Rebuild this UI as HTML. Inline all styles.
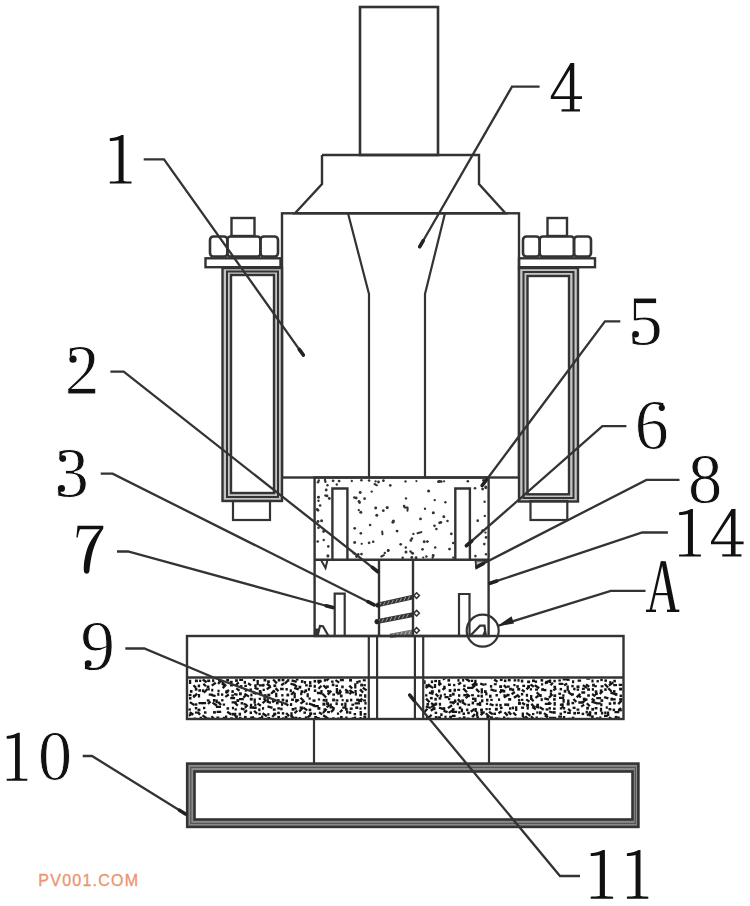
<!DOCTYPE html>
<html><head><meta charset="utf-8"><title>diagram</title>
<style>html,body{margin:0;padding:0;background:#fff;}body{width:750px;height:906px;overflow:hidden;font-family:"Liberation Serif",serif;}svg{display:block}</style>
</head><body>
<svg width="750" height="906" viewBox="0 0 750 906" font-family="Liberation Serif, serif" stroke-linejoin="miter"><rect width="750" height="906" fill="#fff"/><g><rect x="360" y="7" width="78" height="148" rx="0" fill="none" stroke="#333" stroke-width="2.6"/>
<polyline points="322,155 479,155 479,184 505.5,213.3 295,213.3 322,184 322,155" fill="none" stroke="#333" stroke-width="2.4"/>
<rect x="282" y="213.3" width="237" height="264.2" rx="0" fill="none" stroke="#333" stroke-width="2.4"/>
<polyline points="348,213.3 369,294 369,477.5" fill="none" stroke="#333" stroke-width="2.2" stroke-linejoin="round"/>
<polyline points="445,213.3 425,294 425,477.5" fill="none" stroke="#333" stroke-width="2.2" stroke-linejoin="round"/>
<rect x="231.5" y="218" width="23.0" height="18" rx="0" fill="none" stroke="#333" stroke-width="2.4"/>
<rect x="210" y="236.5" width="17.400000000000006" height="20.0" rx="3.5" fill="none" stroke="#333" stroke-width="2.6"/>
<rect x="227.4" y="236.5" width="32.99999999999997" height="20.0" rx="3" fill="none" stroke="#333" stroke-width="2.6"/>
<rect x="260.4" y="236.5" width="17.600000000000023" height="20.0" rx="3.5" fill="none" stroke="#333" stroke-width="2.6"/>
<rect x="205.5" y="258.3" width="75.0" height="8.899999999999977" rx="0" fill="none" stroke="#333" stroke-width="2.4"/>
<path d="M222.5,268 H282 V501 H222.5 Z M231,275 H274 V493 H231 Z" fill="#c4c4c4" fill-rule="evenodd"/>
<rect x="222.5" y="268" width="59.5" height="233" rx="0" fill="none" stroke="#333" stroke-width="2.4"/>
<rect x="227" y="271.5" width="51" height="225.5" rx="0" fill="none" stroke="#333" stroke-width="2.0"/>
<rect x="231" y="275" width="43" height="218" rx="0" fill="none" stroke="#333" stroke-width="2.4"/>
<rect x="233" y="501" width="37" height="19" rx="0" fill="none" stroke="#333" stroke-width="2.2"/>
<rect x="547.5" y="218" width="19.5" height="18" rx="0" fill="none" stroke="#333" stroke-width="2.4"/>
<rect x="523" y="236.5" width="16.700000000000045" height="20.0" rx="3.5" fill="none" stroke="#333" stroke-width="2.6"/>
<rect x="539.7" y="236.5" width="34.299999999999955" height="20.0" rx="3" fill="none" stroke="#333" stroke-width="2.6"/>
<rect x="574" y="236.5" width="17" height="20.0" rx="3.5" fill="none" stroke="#333" stroke-width="2.6"/>
<rect x="519" y="258.3" width="76" height="8.899999999999977" rx="0" fill="none" stroke="#333" stroke-width="2.4"/>
<path d="M519,268 H578 V501.5 H519 Z M527.5,276 H569 V494.3 H527.5 Z" fill="#c4c4c4" fill-rule="evenodd"/>
<rect x="519" y="268" width="59" height="233.5" rx="0" fill="none" stroke="#333" stroke-width="2.4"/>
<rect x="523.5" y="272" width="50.0" height="226" rx="0" fill="none" stroke="#333" stroke-width="2.0"/>
<rect x="527.5" y="276" width="41.5" height="218.3" rx="0" fill="none" stroke="#333" stroke-width="2.4"/>
<rect x="530.5" y="501" width="36.799999999999955" height="19" rx="0" fill="none" stroke="#333" stroke-width="2.2"/>
<g fill="#333"><circle cx="371.7" cy="491.6" r="1.18"/><line x1="407.6" y1="508.2" x2="407.5" y2="510.7" stroke="#333" stroke-width="2" stroke-linecap="round"/><circle cx="390.3" cy="485.4" r="1.32"/><circle cx="354.7" cy="528.3" r="1.38"/><line x1="384.0" y1="555.2" x2="381.3" y2="556.5" stroke="#333" stroke-width="2" stroke-linecap="round"/><circle cx="369.1" cy="542.8" r="1.38"/><circle cx="425.0" cy="508.7" r="1.18"/><circle cx="327.1" cy="495.9" r="1.32"/><circle cx="370.1" cy="525.1" r="1.27"/><circle cx="451.3" cy="533.8" r="1.38"/><circle cx="405.8" cy="547.4" r="1.27"/><circle cx="482.6" cy="489.1" r="1.45"/><circle cx="323.6" cy="531.5" r="1.38"/><circle cx="434.5" cy="525.8" r="1.33"/><circle cx="397.1" cy="531.1" r="1.43"/><circle cx="426.4" cy="556.5" r="1.26"/><line x1="382.2" y1="531.5" x2="382.5" y2="534.3" stroke="#333" stroke-width="2" stroke-linecap="round"/><circle cx="336.8" cy="484.5" r="1.20"/><circle cx="358.8" cy="510.1" r="1.18"/><circle cx="392.9" cy="522.3" r="1.48"/><circle cx="387.2" cy="507.6" r="1.53"/><circle cx="356.2" cy="498.0" r="1.39"/><circle cx="361.4" cy="480.3" r="1.30"/><circle cx="412.7" cy="553.4" r="1.36"/><line x1="421.4" y1="532.1" x2="417.5" y2="533.3" stroke="#333" stroke-width="2" stroke-linecap="round"/><circle cx="383.3" cy="510.7" r="1.40"/><circle cx="327.5" cy="485.2" r="1.21"/><line x1="374.5" y1="484.0" x2="376.9" y2="485.3" stroke="#333" stroke-width="2" stroke-linecap="round"/><circle cx="378.5" cy="482.0" r="1.40"/><circle cx="375.7" cy="508.0" r="1.49"/><circle cx="484.8" cy="515.9" r="1.18"/><circle cx="361.7" cy="543.8" r="1.16"/><circle cx="477.7" cy="520.7" r="1.37"/><circle cx="321.6" cy="520.7" r="1.50"/><circle cx="434.7" cy="500.1" r="1.22"/><circle cx="447.5" cy="521.0" r="1.28"/><circle cx="354.7" cy="542.5" r="1.49"/><circle cx="453.2" cy="543.0" r="1.24"/><line x1="404.5" y1="507.4" x2="407.5" y2="507.6" stroke="#333" stroke-width="2" stroke-linecap="round"/><circle cx="360.8" cy="533.3" r="1.33"/><circle cx="475.4" cy="556.1" r="1.30"/><circle cx="354.3" cy="497.5" r="1.23"/><circle cx="422.5" cy="549.3" r="1.34"/><circle cx="427.4" cy="541.6" r="1.41"/><circle cx="443.8" cy="516.8" r="1.47"/><circle cx="373.2" cy="541.7" r="1.31"/><circle cx="384.8" cy="552.9" r="1.22"/><circle cx="482.7" cy="530.6" r="1.37"/><circle cx="339.1" cy="481.1" r="1.41"/><circle cx="406.0" cy="551.9" r="1.50"/><circle cx="359.6" cy="502.6" r="1.38"/><circle cx="360.8" cy="512.3" r="1.51"/><circle cx="376.8" cy="515.3" r="1.51"/><circle cx="388.1" cy="550.7" r="1.36"/><circle cx="405.5" cy="481.4" r="1.22"/><circle cx="317.7" cy="541.5" r="1.34"/><circle cx="439.6" cy="522.8" r="1.36"/><circle cx="410.9" cy="540.4" r="1.37"/><circle cx="359.0" cy="501.3" r="1.35"/><circle cx="411.9" cy="538.5" r="1.33"/><circle cx="420.5" cy="518.9" r="1.43"/><circle cx="393.4" cy="521.1" r="1.53"/><circle cx="435.2" cy="547.5" r="1.25"/><circle cx="411.6" cy="552.6" r="1.20"/><circle cx="329.3" cy="498.5" r="1.42"/><circle cx="449.5" cy="549.1" r="1.44"/><circle cx="428.6" cy="491.0" r="1.54"/><circle cx="354.1" cy="553.3" r="1.34"/><circle cx="484.3" cy="544.1" r="1.32"/><circle cx="404.1" cy="506.1" r="1.28"/><circle cx="439.0" cy="481.5" r="1.33"/><circle cx="320.1" cy="505.5" r="1.35"/><circle cx="327.9" cy="555.9" r="1.54"/><circle cx="323.7" cy="540.0" r="1.20"/><circle cx="388.4" cy="550.2" r="1.25"/><circle cx="413.4" cy="533.9" r="1.17"/><circle cx="433.3" cy="512.7" r="1.53"/><circle cx="424.2" cy="541.7" r="1.49"/><circle cx="328.3" cy="546.4" r="1.29"/><circle cx="410.5" cy="551.4" r="1.20"/><circle cx="406.0" cy="498.4" r="1.21"/><circle cx="325.5" cy="495.5" r="1.27"/><circle cx="445.4" cy="502.3" r="1.22"/><circle cx="375.6" cy="481.4" r="1.16"/><circle cx="440.9" cy="522.4" r="1.34"/><circle cx="475.0" cy="488.2" r="1.32"/><circle cx="400.7" cy="544.3" r="1.35"/><circle cx="433.2" cy="555.6" r="1.48"/><circle cx="436.4" cy="529.0" r="1.29"/><circle cx="326.2" cy="490.0" r="1.45"/><circle cx="360.2" cy="492.6" r="1.49"/><circle cx="364.6" cy="498.7" r="1.33"/><circle cx="361.5" cy="554.1" r="1.37"/><circle cx="358.3" cy="554.4" r="1.29"/><circle cx="317.2" cy="509.4" r="1.35"/></g>
<g fill="#333"><circle cx="351.8" cy="481.0" r="1.16"/><circle cx="318.8" cy="480.5" r="1.20"/><circle cx="333.1" cy="480.8" r="1.40"/><circle cx="325.0" cy="480.0" r="1.22"/><circle cx="369.1" cy="480.5" r="1.33"/><circle cx="416.4" cy="481.1" r="1.10"/><circle cx="444.1" cy="481.3" r="1.12"/><circle cx="438.3" cy="481.8" r="1.21"/><circle cx="383.4" cy="480.7" r="1.37"/><circle cx="483.4" cy="480.3" r="1.38"/><circle cx="439.7" cy="481.3" r="1.37"/><circle cx="325.4" cy="481.7" r="1.22"/><circle cx="467.8" cy="481.3" r="1.31"/><circle cx="441.3" cy="481.6" r="1.29"/><circle cx="402.7" cy="557.8" r="1.29"/><circle cx="453.2" cy="557.7" r="1.15"/><circle cx="416.1" cy="557.8" r="1.46"/><circle cx="432.7" cy="557.5" r="1.18"/><circle cx="356.6" cy="556.5" r="1.49"/><circle cx="411.8" cy="557.4" r="1.47"/><circle cx="423.2" cy="557.5" r="1.11"/><circle cx="318.0" cy="482.2" r="1.28"/><circle cx="486.1" cy="537.4" r="1.43"/><circle cx="318.0" cy="521.6" r="1.49"/><circle cx="485.8" cy="486.9" r="1.28"/><circle cx="318.5" cy="500.7" r="1.21"/><circle cx="484.6" cy="501.7" r="1.18"/><circle cx="318.5" cy="497.2" r="1.48"/><circle cx="486.0" cy="554.2" r="1.18"/><circle cx="318.0" cy="510.3" r="1.33"/><circle cx="485.5" cy="532.6" r="1.16"/><circle cx="318.5" cy="527.7" r="1.31"/><circle cx="485.8" cy="487.7" r="1.48"/></g>
<rect x="314.6" y="477.5" width="174.0" height="158.5" rx="0" fill="none" stroke="#333" stroke-width="2.4"/>
<polyline points="314.6,559.7 488.6,559.7" fill="none" stroke="#333" stroke-width="2.4"/>
<polyline points="332.4,559.5 332.4,488.5 347.4,488.5 347.4,559.5" fill="none" stroke="#333" stroke-width="2.4"/>
<polyline points="455.3,559.5 455.3,488.5 469.9,488.5 469.9,559.5" fill="none" stroke="#333" stroke-width="2.4"/>
<polyline points="379,559.5 379,636" fill="none" stroke="#333" stroke-width="2.4"/>
<polyline points="413,559.5 413,636" fill="none" stroke="#333" stroke-width="2.4"/>
<polyline points="334.7,636 334.7,593.7 344.7,593.7 344.7,636" fill="none" stroke="#333" stroke-width="2.2"/>
<polyline points="459,636 459,594 469.5,594 469.5,636" fill="none" stroke="#333" stroke-width="2.2"/>
<polyline points="321,560 325.5,568 327.5,560" fill="none" stroke="#333" stroke-width="2"/>
<polygon points="475.5,560.5 487,560.5 476.3,568.3" fill="#bbb" stroke="#333" stroke-width="1.8"/>
<rect x="315" y="628.5" width="4" height="7.5" fill="#333"/>
<polyline points="317.5,636 320,626 323,626.2 328.5,636" fill="none" stroke="#333" stroke-width="2.2"/>
<polyline points="470,636 480,625.7 484.5,625.7 485.8,636" fill="none" stroke="#333" stroke-width="2.2"/>
<polygon points="482,636 485.5,627 486.5,636" fill="#333"/>
<g opacity="1">
<polyline points="377.2,605 413.2,597" fill="none" stroke="#333" stroke-width="4.8"/>
<path d="M379.2,606.2 L381.1,602.5 M383.3,605.3 L385.2,601.6 M387.4,604.4 L389.3,600.7 M391.5,603.5 L393.4,599.8 M395.6,602.5 L397.5,598.9 M399.7,601.6 L401.6,597.9 M403.8,600.7 L405.7,597.0 M407.9,599.8 L409.8,596.1" stroke="#aaa" stroke-width="0.9" fill="none"/>
</g>
<polygon points="416.6,592.8000000000001 419.40000000000003,595.6 416.6,598.4 413.8,595.6" fill="none" stroke="#333" stroke-width="1.5"/>
<g opacity="1">
<polyline points="375.6,621.8 413,614.6" fill="none" stroke="#333" stroke-width="4.8"/>
<path d="M377.6,623.0 L379.5,619.4 M381.7,622.3 L383.6,618.6 M385.8,621.5 L387.8,617.8 M389.9,620.7 L391.9,617.0 M394.1,619.9 L396.0,616.2 M398.2,619.1 L400.1,615.4 M402.3,618.3 L404.3,614.7 M406.4,617.5 L408.4,613.9" stroke="#aaa" stroke-width="0.9" fill="none"/>
</g>
<polygon points="416.6,610.4000000000001 419.40000000000003,613.2 416.6,616.0 413.8,613.2" fill="none" stroke="#333" stroke-width="1.5"/>
<g opacity="0.7">
<polyline points="390,636 413,631.8" fill="none" stroke="#333" stroke-width="4.8"/>
<path d="M392.0,637.3 L393.9,633.7 M396.1,636.5 L398.1,632.9 M400.2,635.8 L402.2,632.1 M404.4,635.0 L406.3,631.4 M408.5,634.3 L410.5,630.6" stroke="#aaa" stroke-width="0.9" fill="none"/>
</g>
<polygon points="416.6,627.6 419.40000000000003,630.4 416.6,633.1999999999999 413.8,630.4" fill="none" stroke="#333" stroke-width="1.5"/>
<circle cx="377.8" cy="605.3" r="2.4" fill="#222"/>
<circle cx="376.8" cy="621.8" r="2.4" fill="#222"/>
<circle cx="482.7" cy="630.7" r="16" fill="none" stroke="#333" stroke-width="2.2"/>
<clipPath id="cl187_677"><rect x="188.1" y="678.6" width="179.3" height="39.3"/></clipPath><g fill="#151515" clip-path="url(#cl187_677)"><line x1="190.1" y1="679.8" x2="190.1" y2="684.1" stroke="#151515" stroke-width="2.3"/><rect x="194.9" y="679.5" width="3.0" height="2.7"/><rect x="199.1" y="679.6" width="2.2" height="2.4"/><line x1="202.7" y1="679.5" x2="206.7" y2="682.3" stroke="#151515" stroke-width="2.3"/><rect x="207.2" y="679.5" width="3.0" height="2.6"/><rect x="212.1" y="679.2" width="2.2" height="2.9"/><rect x="218.0" y="679.1" width="2.6" height="2.3"/><line x1="222.7" y1="680.8" x2="222.7" y2="685.1" stroke="#151515" stroke-width="2.3"/><rect x="226.2" y="679.0" width="2.9" height="2.5"/><rect x="229.8" y="680.8" width="2.9" height="2.6"/><rect x="235.1" y="679.2" width="2.8" height="2.7"/><line x1="239.2" y1="679.8" x2="243.1" y2="679.8" stroke="#151515" stroke-width="2.3"/><rect x="243.7" y="680.9" width="2.3" height="2.9"/><rect x="252.8" y="679.0" width="2.4" height="2.2"/><line x1="257.7" y1="680.0" x2="257.7" y2="685.2" stroke="#151515" stroke-width="2.3"/><rect x="263.5" y="679.0" width="2.8" height="2.5"/><rect x="267.1" y="680.3" width="2.8" height="2.9"/><line x1="273.1" y1="679.5" x2="276.9" y2="683.4" stroke="#151515" stroke-width="2.3"/><rect x="277.7" y="678.6" width="2.7" height="2.9"/><rect x="281.5" y="678.5" width="2.9" height="2.8"/><rect x="287.1" y="679.1" width="2.2" height="2.6"/><line x1="291.6" y1="680.4" x2="296.7" y2="681.9" stroke="#151515" stroke-width="2.3"/><rect x="295.8" y="678.5" width="2.6" height="2.1"/><rect x="300.9" y="680.1" width="2.5" height="2.8"/><rect x="303.8" y="681.0" width="2.3" height="2.8"/><rect x="309.0" y="681.1" width="2.4" height="2.9"/><rect x="313.6" y="679.9" width="2.5" height="2.7"/><line x1="317.3" y1="680.8" x2="321.3" y2="680.8" stroke="#151515" stroke-width="2.3"/><rect x="323.8" y="679.1" width="2.4" height="2.5"/><line x1="326.5" y1="680.6" x2="329.0" y2="678.0" stroke="#151515" stroke-width="2.3"/><rect x="331.1" y="680.5" width="2.5" height="2.3"/><line x1="335.5" y1="680.1" x2="339.2" y2="682.6" stroke="#151515" stroke-width="2.3"/><line x1="339.9" y1="680.0" x2="343.9" y2="680.0" stroke="#151515" stroke-width="2.3"/><rect x="349.1" y="678.7" width="2.9" height="2.9"/><rect x="356.2" y="680.9" width="2.3" height="2.9"/><rect x="358.3" y="680.2" width="2.4" height="2.4"/><rect x="362.8" y="679.2" width="3.0" height="2.2"/><line x1="193.5" y1="685.2" x2="196.1" y2="687.9" stroke="#151515" stroke-width="2.3"/><rect x="197.7" y="684.5" width="2.4" height="2.8"/><line x1="203.4" y1="683.7" x2="205.9" y2="686.3" stroke="#151515" stroke-width="2.3"/><rect x="206.6" y="685.5" width="2.8" height="2.9"/><line x1="211.7" y1="685.6" x2="215.8" y2="682.8" stroke="#151515" stroke-width="2.3"/><line x1="218.0" y1="683.9" x2="221.7" y2="680.0" stroke="#151515" stroke-width="2.3"/><rect x="222.7" y="683.2" width="2.5" height="3.0"/><rect x="230.1" y="684.2" width="2.9" height="2.3"/><line x1="235.9" y1="685.2" x2="238.7" y2="682.4" stroke="#151515" stroke-width="2.3"/><rect x="239.8" y="685.1" width="2.6" height="2.5"/><rect x="244.3" y="684.8" width="2.6" height="2.2"/><line x1="248.1" y1="683.3" x2="251.1" y2="685.4" stroke="#151515" stroke-width="2.3"/><rect x="254.2" y="684.3" width="2.5" height="2.7"/><line x1="258.9" y1="685.3" x2="264.0" y2="685.3" stroke="#151515" stroke-width="2.3"/><rect x="262.3" y="683.8" width="2.3" height="2.5"/><line x1="266.8" y1="683.8" x2="270.2" y2="686.2" stroke="#151515" stroke-width="2.3"/><rect x="273.4" y="684.4" width="2.8" height="2.7"/><line x1="281.2" y1="685.2" x2="284.2" y2="683.2" stroke="#151515" stroke-width="2.3"/><line x1="284.9" y1="683.6" x2="287.6" y2="680.8" stroke="#151515" stroke-width="2.3"/><line x1="290.5" y1="683.6" x2="295.4" y2="685.1" stroke="#151515" stroke-width="2.3"/><line x1="294.1" y1="684.6" x2="297.0" y2="686.7" stroke="#151515" stroke-width="2.3"/><rect x="298.5" y="685.7" width="2.8" height="2.9"/><rect x="305.1" y="684.2" width="2.7" height="2.2"/><rect x="308.9" y="684.4" width="2.8" height="2.7"/><rect x="313.6" y="684.8" width="2.3" height="3.0"/><line x1="317.9" y1="683.2" x2="321.5" y2="680.8" stroke="#151515" stroke-width="2.3"/><line x1="323.4" y1="685.2" x2="326.8" y2="688.7" stroke="#151515" stroke-width="2.3"/><rect x="326.0" y="685.4" width="2.8" height="2.5"/><rect x="331.8" y="683.5" width="2.6" height="2.7"/><rect x="335.4" y="684.7" width="2.6" height="2.2"/><rect x="341.2" y="685.5" width="2.5" height="2.8"/><line x1="349.3" y1="685.6" x2="352.2" y2="688.5" stroke="#151515" stroke-width="2.3"/><line x1="355.3" y1="683.3" x2="355.3" y2="688.5" stroke="#151515" stroke-width="2.3"/><rect x="360.2" y="683.7" width="2.9" height="2.8"/><rect x="363.4" y="684.1" width="2.4" height="2.2"/><rect x="189.9" y="690.0" width="2.6" height="2.8"/><rect x="194.8" y="688.0" width="2.6" height="2.7"/><rect x="198.3" y="689.2" width="2.7" height="2.5"/><rect x="201.9" y="689.3" width="2.3" height="2.8"/><rect x="207.6" y="688.2" width="2.2" height="2.2"/><rect x="211.2" y="688.8" width="2.1" height="2.7"/><rect x="217.5" y="689.7" width="2.1" height="2.6"/><line x1="222.7" y1="688.1" x2="226.1" y2="684.5" stroke="#151515" stroke-width="2.3"/><rect x="225.3" y="690.3" width="3.0" height="2.9"/><rect x="231.4" y="690.1" width="2.4" height="2.8"/><line x1="236.3" y1="688.4" x2="239.6" y2="690.7" stroke="#151515" stroke-width="2.3"/><rect x="244.7" y="689.3" width="2.4" height="2.3"/><rect x="249.5" y="688.4" width="2.4" height="2.8"/><line x1="254.4" y1="687.8" x2="258.6" y2="689.1" stroke="#151515" stroke-width="2.3"/><rect x="258.8" y="690.0" width="2.6" height="2.9"/><rect x="262.6" y="688.7" width="2.2" height="2.4"/><line x1="266.8" y1="689.3" x2="271.0" y2="686.4" stroke="#151515" stroke-width="2.3"/><rect x="272.5" y="690.3" width="2.7" height="2.4"/><line x1="275.5" y1="688.1" x2="278.5" y2="691.2" stroke="#151515" stroke-width="2.3"/><line x1="280.1" y1="689.0" x2="283.7" y2="689.0" stroke="#151515" stroke-width="2.3"/><rect x="285.5" y="688.0" width="2.3" height="2.6"/><rect x="289.7" y="689.3" width="2.2" height="2.9"/><line x1="294.2" y1="687.9" x2="298.8" y2="689.4" stroke="#151515" stroke-width="2.3"/><rect x="300.5" y="690.2" width="2.8" height="2.9"/><rect x="304.5" y="689.3" width="2.5" height="2.2"/><rect x="307.8" y="687.8" width="2.2" height="2.9"/><rect x="313.8" y="689.4" width="2.5" height="2.6"/><line x1="318.5" y1="688.8" x2="321.4" y2="685.8" stroke="#151515" stroke-width="2.3"/><line x1="321.5" y1="690.0" x2="321.5" y2="694.6" stroke="#151515" stroke-width="2.3"/><rect x="327.1" y="690.1" width="2.7" height="2.3"/><line x1="336.9" y1="688.0" x2="336.9" y2="693.4" stroke="#151515" stroke-width="2.3"/><line x1="339.9" y1="689.4" x2="339.9" y2="694.4" stroke="#151515" stroke-width="2.3"/><line x1="345.1" y1="689.4" x2="348.1" y2="691.4" stroke="#151515" stroke-width="2.3"/><line x1="349.4" y1="690.1" x2="353.9" y2="693.1" stroke="#151515" stroke-width="2.3"/><rect x="354.4" y="690.0" width="2.3" height="2.9"/><line x1="360.0" y1="689.4" x2="363.1" y2="692.6" stroke="#151515" stroke-width="2.3"/><line x1="362.8" y1="687.8" x2="366.6" y2="690.4" stroke="#151515" stroke-width="2.3"/><rect x="188.6" y="693.9" width="2.9" height="2.2"/><rect x="192.9" y="694.7" width="2.2" height="2.1"/><line x1="199.0" y1="693.9" x2="199.0" y2="697.5" stroke="#151515" stroke-width="2.3"/><line x1="203.8" y1="692.8" x2="207.5" y2="689.0" stroke="#151515" stroke-width="2.3"/><line x1="208.7" y1="694.7" x2="212.6" y2="694.7" stroke="#151515" stroke-width="2.3"/><line x1="211.1" y1="694.8" x2="215.6" y2="696.2" stroke="#151515" stroke-width="2.3"/><rect x="217.2" y="693.0" width="2.2" height="2.8"/><rect x="221.0" y="693.4" width="2.3" height="2.4"/><line x1="225.8" y1="693.1" x2="228.9" y2="689.9" stroke="#151515" stroke-width="2.3"/><rect x="231.3" y="694.4" width="2.6" height="2.2"/><line x1="234.1" y1="693.8" x2="237.6" y2="694.9" stroke="#151515" stroke-width="2.3"/><rect x="239.0" y="692.3" width="2.8" height="3.0"/><line x1="244.5" y1="693.6" x2="249.0" y2="696.6" stroke="#151515" stroke-width="2.3"/><rect x="250.3" y="693.6" width="2.2" height="2.8"/><line x1="253.0" y1="692.7" x2="256.5" y2="693.8" stroke="#151515" stroke-width="2.3"/><line x1="258.8" y1="694.3" x2="261.9" y2="692.3" stroke="#151515" stroke-width="2.3"/><rect x="263.9" y="694.2" width="2.7" height="2.4"/><rect x="267.3" y="693.7" width="3.0" height="2.7"/><line x1="271.1" y1="693.8" x2="274.5" y2="690.4" stroke="#151515" stroke-width="2.3"/><line x1="276.2" y1="692.7" x2="276.3" y2="697.3" stroke="#151515" stroke-width="2.3"/><rect x="281.2" y="694.1" width="2.3" height="2.4"/><rect x="286.4" y="693.6" width="2.8" height="2.8"/><line x1="291.1" y1="694.8" x2="294.2" y2="691.6" stroke="#151515" stroke-width="2.3"/><line x1="294.7" y1="692.8" x2="294.7" y2="698.3" stroke="#151515" stroke-width="2.3"/><rect x="300.1" y="692.8" width="2.2" height="2.4"/><line x1="303.7" y1="692.6" x2="306.9" y2="690.4" stroke="#151515" stroke-width="2.3"/><line x1="307.7" y1="693.3" x2="307.7" y2="697.3" stroke="#151515" stroke-width="2.3"/><line x1="316.9" y1="693.0" x2="321.8" y2="693.0" stroke="#151515" stroke-width="2.3"/><line x1="322.5" y1="693.8" x2="326.1" y2="697.5" stroke="#151515" stroke-width="2.3"/><line x1="327.7" y1="694.6" x2="331.3" y2="690.8" stroke="#151515" stroke-width="2.3"/><rect x="332.3" y="693.5" width="2.7" height="2.2"/><line x1="337.2" y1="694.2" x2="341.5" y2="691.2" stroke="#151515" stroke-width="2.3"/><rect x="339.9" y="694.5" width="2.7" height="2.9"/><line x1="345.3" y1="692.3" x2="348.8" y2="692.3" stroke="#151515" stroke-width="2.3"/><line x1="349.4" y1="694.3" x2="352.3" y2="691.3" stroke="#151515" stroke-width="2.3"/><rect x="354.8" y="692.8" width="2.1" height="2.8"/><rect x="359.1" y="694.2" width="3.0" height="2.3"/><line x1="365.2" y1="694.2" x2="365.2" y2="697.8" stroke="#151515" stroke-width="2.3"/><rect x="189.0" y="696.9" width="2.5" height="2.7"/><line x1="193.3" y1="697.5" x2="197.1" y2="693.6" stroke="#151515" stroke-width="2.3"/><rect x="206.8" y="699.3" width="2.8" height="2.3"/><rect x="212.9" y="699.0" width="2.7" height="2.8"/><line x1="216.7" y1="699.5" x2="216.7" y2="703.2" stroke="#151515" stroke-width="2.3"/><rect x="221.1" y="699.1" width="2.4" height="2.3"/><line x1="225.3" y1="696.9" x2="228.8" y2="694.5" stroke="#151515" stroke-width="2.3"/><line x1="230.2" y1="698.2" x2="235.1" y2="698.2" stroke="#151515" stroke-width="2.3"/><rect x="236.4" y="699.1" width="2.8" height="2.9"/><line x1="239.0" y1="699.1" x2="243.8" y2="699.1" stroke="#151515" stroke-width="2.3"/><line x1="243.4" y1="697.7" x2="246.0" y2="694.9" stroke="#151515" stroke-width="2.3"/><rect x="249.8" y="697.8" width="2.9" height="2.8"/><line x1="254.7" y1="698.5" x2="254.7" y2="703.8" stroke="#151515" stroke-width="2.3"/><rect x="258.7" y="697.7" width="2.3" height="2.2"/><rect x="263.3" y="697.2" width="2.5" height="2.8"/><line x1="267.6" y1="698.2" x2="267.7" y2="702.6" stroke="#151515" stroke-width="2.3"/><rect x="272.2" y="699.1" width="2.9" height="2.5"/><rect x="277.1" y="699.1" width="2.5" height="3.0"/><rect x="281.7" y="698.6" width="2.6" height="2.7"/><rect x="285.5" y="699.5" width="2.5" height="2.9"/><rect x="291.1" y="698.5" width="2.9" height="2.4"/><rect x="295.2" y="698.9" width="2.5" height="2.5"/><line x1="300.5" y1="697.7" x2="303.5" y2="700.7" stroke="#151515" stroke-width="2.3"/><rect x="308.5" y="697.4" width="2.2" height="2.3"/><rect x="312.5" y="699.4" width="3.0" height="2.5"/><rect x="317.9" y="698.4" width="2.2" height="2.1"/><rect x="322.6" y="698.9" width="2.6" height="2.6"/><line x1="326.4" y1="698.7" x2="326.4" y2="702.3" stroke="#151515" stroke-width="2.3"/><rect x="332.2" y="698.5" width="2.7" height="2.9"/><rect x="335.5" y="699.3" width="2.9" height="2.2"/><rect x="341.6" y="699.1" width="2.1" height="2.1"/><rect x="345.9" y="699.3" width="2.6" height="2.8"/><rect x="350.1" y="698.7" width="2.2" height="2.7"/><rect x="356.2" y="698.6" width="2.8" height="2.6"/><line x1="359.4" y1="699.2" x2="361.9" y2="701.7" stroke="#151515" stroke-width="2.3"/><rect x="363.1" y="699.4" width="2.9" height="2.2"/><line x1="189.9" y1="702.1" x2="194.3" y2="705.1" stroke="#151515" stroke-width="2.3"/><rect x="194.5" y="703.3" width="2.8" height="2.4"/><line x1="198.5" y1="703.2" x2="203.4" y2="703.2" stroke="#151515" stroke-width="2.3"/><line x1="201.8" y1="703.2" x2="206.1" y2="703.2" stroke="#151515" stroke-width="2.3"/><line x1="208.0" y1="704.0" x2="210.5" y2="701.4" stroke="#151515" stroke-width="2.3"/><line x1="212.5" y1="702.6" x2="217.0" y2="705.7" stroke="#151515" stroke-width="2.3"/><line x1="218.1" y1="701.9" x2="221.1" y2="705.0" stroke="#151515" stroke-width="2.3"/><rect x="222.7" y="703.5" width="2.4" height="2.2"/><line x1="231.6" y1="702.4" x2="236.7" y2="702.4" stroke="#151515" stroke-width="2.3"/><line x1="234.8" y1="702.6" x2="237.8" y2="705.7" stroke="#151515" stroke-width="2.3"/><rect x="240.6" y="702.1" width="2.7" height="2.4"/><line x1="243.6" y1="703.9" x2="247.0" y2="705.0" stroke="#151515" stroke-width="2.3"/><rect x="249.9" y="703.8" width="2.3" height="2.9"/><rect x="254.2" y="703.9" width="2.2" height="2.6"/><line x1="257.5" y1="703.5" x2="260.9" y2="705.8" stroke="#151515" stroke-width="2.3"/><line x1="262.6" y1="703.3" x2="266.1" y2="699.8" stroke="#151515" stroke-width="2.3"/><line x1="267.4" y1="701.7" x2="270.9" y2="702.8" stroke="#151515" stroke-width="2.3"/><line x1="272.2" y1="702.2" x2="275.8" y2="699.7" stroke="#151515" stroke-width="2.3"/><rect x="275.9" y="702.0" width="2.7" height="2.4"/><rect x="281.0" y="702.8" width="2.1" height="3.0"/><line x1="284.9" y1="703.1" x2="288.3" y2="705.5" stroke="#151515" stroke-width="2.3"/><rect x="289.9" y="703.1" width="2.3" height="2.9"/><line x1="295.3" y1="702.1" x2="298.9" y2="699.6" stroke="#151515" stroke-width="2.3"/><line x1="300.4" y1="703.6" x2="304.7" y2="700.7" stroke="#151515" stroke-width="2.3"/><rect x="305.6" y="702.5" width="2.1" height="2.4"/><line x1="308.9" y1="703.7" x2="313.4" y2="705.1" stroke="#151515" stroke-width="2.3"/><rect x="312.5" y="704.0" width="2.6" height="2.7"/><rect x="322.4" y="702.7" width="3.0" height="3.0"/><rect x="326.1" y="702.2" width="2.9" height="2.9"/><line x1="330.7" y1="703.5" x2="330.7" y2="708.6" stroke="#151515" stroke-width="2.3"/><rect x="335.5" y="702.3" width="2.3" height="2.8"/><rect x="340.9" y="703.2" width="2.4" height="2.5"/><line x1="345.4" y1="702.6" x2="345.4" y2="707.9" stroke="#151515" stroke-width="2.3"/><rect x="351.4" y="703.6" width="2.8" height="2.2"/><line x1="354.6" y1="703.4" x2="359.9" y2="703.4" stroke="#151515" stroke-width="2.3"/><line x1="358.3" y1="701.7" x2="362.5" y2="698.8" stroke="#151515" stroke-width="2.3"/><rect x="364.4" y="701.9" width="2.2" height="2.7"/><rect x="188.4" y="708.4" width="2.5" height="2.2"/><rect x="194.8" y="707.0" width="2.5" height="2.4"/><rect x="197.5" y="708.6" width="2.9" height="2.7"/><rect x="203.0" y="706.8" width="2.3" height="2.4"/><line x1="215.9" y1="706.9" x2="221.0" y2="706.9" stroke="#151515" stroke-width="2.3"/><rect x="226.5" y="707.2" width="2.6" height="2.5"/><rect x="231.9" y="706.8" width="2.1" height="2.5"/><rect x="234.5" y="708.3" width="2.3" height="2.3"/><line x1="240.8" y1="708.4" x2="244.6" y2="709.6" stroke="#151515" stroke-width="2.3"/><line x1="244.8" y1="707.9" x2="247.7" y2="705.0" stroke="#151515" stroke-width="2.3"/><line x1="249.6" y1="707.5" x2="254.1" y2="707.5" stroke="#151515" stroke-width="2.3"/><line x1="253.1" y1="707.8" x2="256.7" y2="707.8" stroke="#151515" stroke-width="2.3"/><rect x="258.2" y="708.4" width="2.3" height="2.8"/><rect x="262.0" y="707.1" width="2.1" height="2.6"/><line x1="267.5" y1="706.4" x2="272.5" y2="707.9" stroke="#151515" stroke-width="2.3"/><rect x="272.8" y="708.4" width="2.9" height="2.4"/><rect x="277.3" y="707.3" width="2.8" height="2.2"/><rect x="280.2" y="707.7" width="2.4" height="2.6"/><rect x="291.6" y="708.0" width="2.9" height="2.7"/><rect x="294.4" y="707.3" width="2.2" height="2.3"/><line x1="299.6" y1="707.6" x2="303.4" y2="707.6" stroke="#151515" stroke-width="2.3"/><line x1="303.4" y1="707.6" x2="307.3" y2="710.4" stroke="#151515" stroke-width="2.3"/><rect x="308.6" y="708.6" width="2.7" height="2.7"/><line x1="313.8" y1="706.2" x2="318.8" y2="706.2" stroke="#151515" stroke-width="2.3"/><rect x="317.4" y="707.0" width="3.0" height="2.8"/><rect x="323.5" y="708.3" width="2.6" height="3.0"/><line x1="326.6" y1="707.2" x2="329.7" y2="705.1" stroke="#151515" stroke-width="2.3"/><line x1="331.4" y1="706.6" x2="334.6" y2="708.8" stroke="#151515" stroke-width="2.3"/><line x1="342.2" y1="707.7" x2="345.8" y2="707.7" stroke="#151515" stroke-width="2.3"/><rect x="345.1" y="707.9" width="2.6" height="2.9"/><rect x="349.7" y="707.5" width="3.0" height="2.4"/><rect x="355.3" y="706.4" width="3.0" height="2.6"/><rect x="359.4" y="707.5" width="2.2" height="2.2"/><rect x="363.9" y="706.8" width="2.2" height="2.6"/><line x1="189.6" y1="712.2" x2="193.4" y2="714.8" stroke="#151515" stroke-width="2.3"/><rect x="194.9" y="711.5" width="2.8" height="2.1"/><line x1="197.7" y1="712.1" x2="200.1" y2="714.6" stroke="#151515" stroke-width="2.3"/><rect x="204.0" y="711.3" width="2.5" height="2.4"/><rect x="213.0" y="711.1" width="2.9" height="2.5"/><line x1="216.6" y1="711.8" x2="221.2" y2="711.8" stroke="#151515" stroke-width="2.3"/><line x1="227.2" y1="711.8" x2="231.2" y2="714.5" stroke="#151515" stroke-width="2.3"/><rect x="231.6" y="712.8" width="2.8" height="2.8"/><line x1="235.2" y1="712.7" x2="235.2" y2="716.5" stroke="#151515" stroke-width="2.3"/><rect x="238.6" y="712.7" width="2.5" height="3.0"/><line x1="244.3" y1="712.7" x2="246.9" y2="710.1" stroke="#151515" stroke-width="2.3"/><rect x="249.6" y="711.4" width="2.4" height="2.6"/><line x1="254.1" y1="710.7" x2="257.1" y2="713.8" stroke="#151515" stroke-width="2.3"/><rect x="258.4" y="712.8" width="2.4" height="2.3"/><line x1="262.5" y1="713.2" x2="266.9" y2="716.3" stroke="#151515" stroke-width="2.3"/><rect x="267.3" y="713.1" width="2.1" height="2.6"/><rect x="273.2" y="712.7" width="3.0" height="2.6"/><rect x="277.2" y="711.7" width="2.6" height="2.4"/><rect x="281.8" y="712.1" width="2.4" height="2.5"/><line x1="286.1" y1="713.0" x2="289.1" y2="716.1" stroke="#151515" stroke-width="2.3"/><line x1="291.5" y1="712.2" x2="291.5" y2="717.4" stroke="#151515" stroke-width="2.3"/><line x1="294.6" y1="713.2" x2="297.3" y2="710.5" stroke="#151515" stroke-width="2.3"/><line x1="299.2" y1="711.6" x2="302.8" y2="707.8" stroke="#151515" stroke-width="2.3"/><rect x="303.4" y="711.5" width="2.6" height="2.3"/><rect x="309.2" y="712.3" width="3.0" height="2.7"/><rect x="313.3" y="712.7" width="2.7" height="2.1"/><line x1="319.0" y1="712.2" x2="322.2" y2="714.4" stroke="#151515" stroke-width="2.3"/><line x1="322.9" y1="713.0" x2="326.7" y2="709.0" stroke="#151515" stroke-width="2.3"/><rect x="327.1" y="711.0" width="2.8" height="2.2"/><line x1="331.0" y1="712.1" x2="334.1" y2="708.9" stroke="#151515" stroke-width="2.3"/><rect x="336.9" y="712.5" width="2.2" height="2.3"/><line x1="339.9" y1="712.3" x2="342.4" y2="709.7" stroke="#151515" stroke-width="2.3"/><rect x="346.0" y="710.8" width="2.5" height="2.8"/><rect x="349.1" y="711.3" width="2.2" height="2.6"/><rect x="353.6" y="713.0" width="2.5" height="2.3"/><line x1="360.7" y1="710.9" x2="360.8" y2="715.8" stroke="#151515" stroke-width="2.3"/><rect x="363.6" y="713.0" width="2.8" height="2.3"/><line x1="188.9" y1="715.8" x2="192.5" y2="713.4" stroke="#151515" stroke-width="2.3"/><rect x="193.5" y="717.6" width="2.7" height="3.0"/><rect x="199.6" y="716.7" width="2.5" height="2.4"/><line x1="202.5" y1="715.4" x2="206.6" y2="718.1" stroke="#151515" stroke-width="2.3"/><rect x="207.1" y="717.5" width="2.5" height="2.9"/><line x1="211.4" y1="716.2" x2="214.7" y2="719.6" stroke="#151515" stroke-width="2.3"/><rect x="216.4" y="716.5" width="2.9" height="2.7"/><rect x="222.8" y="716.8" width="3.0" height="2.6"/><line x1="226.1" y1="715.6" x2="226.1" y2="720.2" stroke="#151515" stroke-width="2.3"/><rect x="230.1" y="717.3" width="2.7" height="2.6"/><rect x="235.0" y="715.5" width="2.9" height="2.4"/><rect x="238.9" y="716.8" width="2.6" height="2.4"/><rect x="244.0" y="715.9" width="2.7" height="2.4"/><line x1="250.2" y1="717.3" x2="255.2" y2="718.9" stroke="#151515" stroke-width="2.3"/><line x1="252.9" y1="716.3" x2="252.9" y2="720.5" stroke="#151515" stroke-width="2.3"/><rect x="258.7" y="717.1" width="2.9" height="2.4"/><line x1="262.1" y1="715.6" x2="262.1" y2="719.5" stroke="#151515" stroke-width="2.3"/><rect x="267.3" y="716.9" width="2.8" height="2.2"/><line x1="272.2" y1="716.9" x2="275.8" y2="713.2" stroke="#151515" stroke-width="2.3"/><rect x="277.3" y="716.0" width="2.7" height="2.4"/><rect x="282.2" y="717.3" width="2.1" height="2.9"/><rect x="284.7" y="715.9" width="2.8" height="2.3"/><line x1="291.1" y1="715.5" x2="295.0" y2="719.5" stroke="#151515" stroke-width="2.3"/><rect x="294.4" y="716.7" width="3.0" height="2.5"/><line x1="299.7" y1="717.1" x2="299.7" y2="721.5" stroke="#151515" stroke-width="2.3"/><rect x="304.8" y="716.4" width="2.9" height="2.2"/><line x1="307.7" y1="717.1" x2="310.9" y2="715.0" stroke="#151515" stroke-width="2.3"/><rect x="314.2" y="715.9" width="3.0" height="2.3"/><rect x="317.0" y="717.0" width="2.7" height="2.5"/><line x1="323.2" y1="715.3" x2="327.7" y2="718.3" stroke="#151515" stroke-width="2.3"/><rect x="326.8" y="717.6" width="2.6" height="2.4"/><rect x="332.0" y="717.3" width="2.7" height="2.6"/><rect x="337.2" y="717.5" width="2.4" height="2.4"/><rect x="340.0" y="716.0" width="2.7" height="2.5"/><rect x="345.2" y="716.5" width="2.3" height="2.2"/><rect x="351.6" y="717.3" width="2.7" height="3.0"/><rect x="353.9" y="716.6" width="2.3" height="2.6"/><line x1="360.6" y1="717.0" x2="360.6" y2="721.8" stroke="#151515" stroke-width="2.3"/><rect x="363.4" y="715.7" width="2.8" height="2.9"/></g>
<clipPath id="cl423_677"><rect x="424.1" y="678.6" width="198.3" height="39.3"/></clipPath><g fill="#151515" clip-path="url(#cl423_677)"><line x1="424.5" y1="680.2" x2="424.5" y2="684.0" stroke="#151515" stroke-width="2.3"/><rect x="430.8" y="680.4" width="2.3" height="2.8"/><rect x="434.2" y="679.9" width="2.8" height="2.3"/><line x1="439.3" y1="680.1" x2="439.3" y2="684.4" stroke="#151515" stroke-width="2.3"/><line x1="443.0" y1="679.6" x2="446.8" y2="676.9" stroke="#151515" stroke-width="2.3"/><rect x="447.4" y="679.1" width="2.7" height="2.5"/><rect x="457.4" y="679.1" width="2.1" height="2.6"/><rect x="462.1" y="678.9" width="2.1" height="2.7"/><line x1="465.6" y1="678.5" x2="469.9" y2="681.5" stroke="#151515" stroke-width="2.3"/><rect x="470.8" y="679.7" width="2.4" height="2.3"/><line x1="475.4" y1="679.7" x2="475.4" y2="684.9" stroke="#151515" stroke-width="2.3"/><line x1="490.5" y1="678.7" x2="493.9" y2="675.2" stroke="#151515" stroke-width="2.3"/><line x1="494.1" y1="679.5" x2="497.5" y2="681.8" stroke="#151515" stroke-width="2.3"/><rect x="499.9" y="678.6" width="2.7" height="2.5"/><rect x="503.9" y="679.5" width="2.5" height="2.6"/><rect x="507.8" y="678.8" width="2.9" height="2.6"/><rect x="513.6" y="679.2" width="2.6" height="2.3"/><rect x="517.4" y="679.1" width="2.2" height="2.6"/><rect x="520.8" y="679.6" width="2.5" height="2.9"/><rect x="527.1" y="680.5" width="3.0" height="2.7"/><rect x="532.0" y="679.5" width="3.0" height="2.6"/><rect x="534.8" y="680.5" width="2.3" height="2.4"/><rect x="540.5" y="679.1" width="2.7" height="2.5"/><rect x="545.2" y="680.8" width="2.9" height="2.9"/><line x1="550.1" y1="679.4" x2="550.1" y2="682.9" stroke="#151515" stroke-width="2.3"/><rect x="553.4" y="679.8" width="2.4" height="2.5"/><rect x="558.3" y="679.4" width="2.6" height="2.1"/><line x1="562.6" y1="679.4" x2="567.8" y2="679.4" stroke="#151515" stroke-width="2.3"/><rect x="566.9" y="678.6" width="2.8" height="2.3"/><rect x="572.0" y="680.3" width="2.2" height="2.9"/><line x1="577.6" y1="680.6" x2="581.1" y2="680.6" stroke="#151515" stroke-width="2.3"/><line x1="586.3" y1="678.6" x2="590.1" y2="678.6" stroke="#151515" stroke-width="2.3"/><rect x="591.4" y="679.5" width="2.2" height="2.9"/><rect x="596.5" y="680.1" width="2.4" height="2.3"/><rect x="600.3" y="678.6" width="2.4" height="2.5"/><rect x="604.4" y="679.4" width="2.6" height="2.4"/><rect x="609.2" y="681.1" width="2.2" height="2.7"/><rect x="613.3" y="679.8" width="2.6" height="2.6"/><line x1="425.5" y1="685.1" x2="429.6" y2="686.4" stroke="#151515" stroke-width="2.3"/><line x1="428.9" y1="685.2" x2="433.2" y2="688.1" stroke="#151515" stroke-width="2.3"/><line x1="435.0" y1="683.9" x2="435.0" y2="688.1" stroke="#151515" stroke-width="2.3"/><line x1="438.4" y1="685.4" x2="441.4" y2="683.3" stroke="#151515" stroke-width="2.3"/><rect x="443.2" y="685.7" width="2.4" height="2.3"/><rect x="447.9" y="683.5" width="2.9" height="2.5"/><rect x="453.1" y="683.9" width="2.2" height="2.4"/><line x1="458.1" y1="684.5" x2="461.1" y2="682.5" stroke="#151515" stroke-width="2.3"/><rect x="463.2" y="684.6" width="2.4" height="2.5"/><line x1="471.9" y1="685.5" x2="476.2" y2="682.5" stroke="#151515" stroke-width="2.3"/><rect x="475.3" y="683.2" width="2.3" height="2.7"/><line x1="480.2" y1="683.6" x2="484.5" y2="685.0" stroke="#151515" stroke-width="2.3"/><rect x="484.4" y="683.2" width="2.1" height="2.2"/><rect x="489.9" y="685.0" width="2.3" height="2.7"/><rect x="493.8" y="683.2" width="2.9" height="2.1"/><rect x="499.2" y="685.2" width="2.9" height="2.8"/><line x1="503.8" y1="685.1" x2="506.6" y2="688.0" stroke="#151515" stroke-width="2.3"/><rect x="506.8" y="685.5" width="3.0" height="2.2"/><rect x="513.3" y="684.0" width="2.2" height="2.2"/><rect x="516.2" y="685.2" width="2.6" height="2.6"/><rect x="522.3" y="684.7" width="2.8" height="2.3"/><rect x="527.2" y="685.1" width="2.8" height="3.0"/><line x1="530.5" y1="684.5" x2="533.8" y2="686.7" stroke="#151515" stroke-width="2.3"/><line x1="534.7" y1="685.2" x2="539.2" y2="688.3" stroke="#151515" stroke-width="2.3"/><rect x="541.0" y="683.3" width="2.2" height="2.2"/><line x1="545.0" y1="683.6" x2="549.1" y2="680.8" stroke="#151515" stroke-width="2.3"/><line x1="550.5" y1="685.3" x2="552.9" y2="682.8" stroke="#151515" stroke-width="2.3"/><rect x="553.4" y="685.7" width="2.7" height="2.4"/><line x1="558.6" y1="683.9" x2="563.4" y2="683.9" stroke="#151515" stroke-width="2.3"/><line x1="564.1" y1="685.5" x2="567.1" y2="683.4" stroke="#151515" stroke-width="2.3"/><line x1="567.7" y1="685.5" x2="567.7" y2="690.7" stroke="#151515" stroke-width="2.3"/><rect x="571.3" y="684.9" width="2.4" height="2.4"/><rect x="576.5" y="685.4" width="3.0" height="2.8"/><line x1="582.8" y1="685.1" x2="587.1" y2="688.0" stroke="#151515" stroke-width="2.3"/><line x1="585.9" y1="684.4" x2="589.3" y2="686.7" stroke="#151515" stroke-width="2.3"/><rect x="592.1" y="683.7" width="2.8" height="2.9"/><rect x="594.3" y="685.1" width="2.5" height="2.2"/><rect x="600.6" y="685.2" width="2.9" height="2.2"/><line x1="604.7" y1="684.0" x2="608.1" y2="687.5" stroke="#151515" stroke-width="2.3"/><line x1="608.9" y1="685.5" x2="613.4" y2="682.4" stroke="#151515" stroke-width="2.3"/><line x1="613.2" y1="685.2" x2="617.0" y2="685.2" stroke="#151515" stroke-width="2.3"/><line x1="618.7" y1="684.9" x2="624.2" y2="684.9" stroke="#151515" stroke-width="2.3"/><rect x="624.1" y="683.4" width="2.2" height="2.5"/><line x1="425.8" y1="688.1" x2="429.6" y2="684.1" stroke="#151515" stroke-width="2.3"/><rect x="430.8" y="690.2" width="3.0" height="2.9"/><rect x="438.0" y="689.5" width="2.3" height="3.0"/><line x1="442.5" y1="689.8" x2="445.4" y2="687.8" stroke="#151515" stroke-width="2.3"/><rect x="448.7" y="689.1" width="2.7" height="3.0"/><rect x="453.5" y="688.7" width="2.5" height="3.0"/><rect x="457.2" y="688.8" width="3.0" height="2.1"/><line x1="463.2" y1="688.4" x2="467.0" y2="692.3" stroke="#151515" stroke-width="2.3"/><line x1="467.1" y1="687.9" x2="472.4" y2="687.9" stroke="#151515" stroke-width="2.3"/><line x1="471.8" y1="688.5" x2="475.2" y2="685.1" stroke="#151515" stroke-width="2.3"/><line x1="476.1" y1="688.9" x2="479.3" y2="692.2" stroke="#151515" stroke-width="2.3"/><line x1="481.8" y1="688.3" x2="481.8" y2="693.5" stroke="#151515" stroke-width="2.3"/><rect x="484.0" y="690.2" width="2.7" height="2.8"/><line x1="490.5" y1="689.4" x2="494.3" y2="690.6" stroke="#151515" stroke-width="2.3"/><rect x="494.2" y="689.6" width="2.5" height="2.3"/><rect x="500.0" y="689.1" width="2.6" height="2.8"/><rect x="502.6" y="689.8" width="2.7" height="2.8"/><rect x="509.1" y="687.8" width="2.8" height="2.8"/><rect x="511.8" y="688.4" width="2.4" height="2.8"/><rect x="517.2" y="687.9" width="3.0" height="2.7"/><line x1="521.8" y1="689.8" x2="524.7" y2="691.8" stroke="#151515" stroke-width="2.3"/><line x1="526.5" y1="689.4" x2="529.4" y2="686.4" stroke="#151515" stroke-width="2.3"/><rect x="529.8" y="688.2" width="2.2" height="2.3"/><rect x="535.1" y="688.5" width="2.9" height="2.2"/><rect x="541.2" y="688.2" width="2.8" height="2.7"/><rect x="543.7" y="688.9" width="2.7" height="2.4"/><rect x="549.9" y="689.8" width="2.4" height="2.6"/><line x1="553.3" y1="690.2" x2="556.3" y2="688.2" stroke="#151515" stroke-width="2.3"/><rect x="559.6" y="687.9" width="2.5" height="2.5"/><rect x="563.7" y="689.8" width="2.6" height="2.9"/><rect x="567.7" y="690.3" width="2.2" height="2.5"/><rect x="573.2" y="687.7" width="2.3" height="2.6"/><rect x="576.6" y="688.6" width="2.5" height="2.2"/><rect x="581.9" y="687.7" width="2.9" height="2.3"/><rect x="587.1" y="688.2" width="2.9" height="2.6"/><rect x="591.8" y="688.1" width="2.1" height="2.7"/><rect x="594.7" y="690.3" width="2.6" height="2.6"/><rect x="599.8" y="689.4" width="2.5" height="2.9"/><rect x="604.2" y="688.3" width="2.5" height="2.6"/><line x1="608.3" y1="688.2" x2="611.7" y2="691.7" stroke="#151515" stroke-width="2.3"/><rect x="613.0" y="690.1" width="2.5" height="2.7"/><rect x="619.1" y="687.7" width="3.0" height="2.8"/><rect x="622.4" y="688.8" width="2.3" height="3.0"/><rect x="425.1" y="694.2" width="2.3" height="2.3"/><line x1="428.9" y1="692.7" x2="433.4" y2="694.0" stroke="#151515" stroke-width="2.3"/><line x1="435.6" y1="693.8" x2="438.3" y2="696.6" stroke="#151515" stroke-width="2.3"/><rect x="439.7" y="694.4" width="2.2" height="2.8"/><rect x="443.7" y="693.5" width="2.2" height="2.1"/><rect x="449.2" y="694.1" width="2.5" height="2.9"/><rect x="451.9" y="692.7" width="2.8" height="2.9"/><rect x="458.0" y="694.2" width="2.3" height="2.6"/><rect x="463.3" y="694.0" width="3.0" height="2.4"/><line x1="466.2" y1="694.0" x2="469.8" y2="696.5" stroke="#151515" stroke-width="2.3"/><rect x="471.1" y="694.1" width="2.8" height="2.2"/><rect x="477.2" y="694.7" width="2.4" height="2.4"/><rect x="480.5" y="694.7" width="2.5" height="2.9"/><rect x="485.2" y="692.5" width="2.3" height="2.9"/><rect x="489.0" y="694.7" width="2.6" height="3.0"/><rect x="495.5" y="694.0" width="2.4" height="2.5"/><line x1="499.5" y1="692.8" x2="503.8" y2="689.9" stroke="#151515" stroke-width="2.3"/><rect x="503.4" y="694.2" width="2.2" height="2.5"/><rect x="506.9" y="693.8" width="2.7" height="2.5"/><line x1="511.6" y1="694.2" x2="514.8" y2="692.0" stroke="#151515" stroke-width="2.3"/><line x1="516.9" y1="694.5" x2="519.7" y2="697.4" stroke="#151515" stroke-width="2.3"/><rect x="520.9" y="692.9" width="2.3" height="2.6"/><rect x="525.8" y="693.8" width="2.3" height="3.0"/><line x1="531.2" y1="694.9" x2="531.2" y2="700.1" stroke="#151515" stroke-width="2.3"/><line x1="536.7" y1="692.3" x2="540.3" y2="696.0" stroke="#151515" stroke-width="2.3"/><rect x="539.5" y="694.2" width="2.3" height="2.9"/><rect x="549.8" y="692.6" width="2.2" height="2.7"/><rect x="553.4" y="694.3" width="2.8" height="2.8"/><rect x="558.3" y="692.6" width="2.8" height="2.3"/><rect x="562.2" y="694.3" width="2.3" height="2.4"/><line x1="568.6" y1="692.4" x2="572.7" y2="695.2" stroke="#151515" stroke-width="2.3"/><rect x="571.6" y="693.2" width="2.3" height="2.3"/><line x1="578.3" y1="694.9" x2="580.8" y2="697.5" stroke="#151515" stroke-width="2.3"/><line x1="581.3" y1="692.5" x2="585.2" y2="692.5" stroke="#151515" stroke-width="2.3"/><rect x="587.2" y="694.3" width="2.7" height="2.4"/><line x1="592.1" y1="694.0" x2="595.4" y2="696.3" stroke="#151515" stroke-width="2.3"/><rect x="595.0" y="692.4" width="2.8" height="2.7"/><line x1="599.8" y1="694.0" x2="602.7" y2="691.0" stroke="#151515" stroke-width="2.3"/><line x1="610.5" y1="692.6" x2="615.3" y2="694.1" stroke="#151515" stroke-width="2.3"/><rect x="614.8" y="692.9" width="2.6" height="2.9"/><rect x="619.6" y="694.6" width="2.7" height="2.5"/><rect x="623.8" y="693.2" width="3.0" height="2.3"/><line x1="426.1" y1="698.6" x2="429.6" y2="702.3" stroke="#151515" stroke-width="2.3"/><rect x="429.9" y="696.9" width="2.8" height="2.5"/><rect x="434.4" y="697.8" width="2.4" height="2.9"/><rect x="438.6" y="697.1" width="2.7" height="2.5"/><line x1="444.5" y1="697.2" x2="448.7" y2="697.2" stroke="#151515" stroke-width="2.3"/><rect x="448.0" y="697.8" width="2.3" height="2.4"/><rect x="453.9" y="699.4" width="2.4" height="2.9"/><line x1="457.8" y1="699.1" x2="461.0" y2="702.4" stroke="#151515" stroke-width="2.3"/><rect x="461.3" y="699.4" width="2.8" height="2.3"/><line x1="465.7" y1="698.3" x2="469.0" y2="694.9" stroke="#151515" stroke-width="2.3"/><rect x="472.0" y="697.6" width="2.6" height="2.4"/><line x1="475.4" y1="697.7" x2="475.4" y2="701.9" stroke="#151515" stroke-width="2.3"/><rect x="481.0" y="699.3" width="2.4" height="3.0"/><rect x="486.0" y="698.7" width="2.5" height="2.8"/><rect x="490.3" y="698.8" width="2.4" height="2.2"/><rect x="498.0" y="698.4" width="2.1" height="2.5"/><line x1="503.9" y1="697.6" x2="508.0" y2="694.8" stroke="#151515" stroke-width="2.3"/><rect x="508.2" y="698.0" width="3.0" height="2.7"/><line x1="513.9" y1="697.8" x2="517.1" y2="695.7" stroke="#151515" stroke-width="2.3"/><rect x="518.1" y="699.0" width="2.2" height="2.6"/><rect x="521.0" y="698.8" width="2.4" height="2.1"/><line x1="526.2" y1="699.4" x2="529.5" y2="701.7" stroke="#151515" stroke-width="2.3"/><line x1="531.0" y1="698.5" x2="533.6" y2="701.2" stroke="#151515" stroke-width="2.3"/><line x1="535.4" y1="697.9" x2="538.5" y2="695.8" stroke="#151515" stroke-width="2.3"/><rect x="540.6" y="698.2" width="2.2" height="2.9"/><line x1="544.3" y1="698.3" x2="549.0" y2="699.7" stroke="#151515" stroke-width="2.3"/><line x1="548.9" y1="697.8" x2="552.5" y2="694.2" stroke="#151515" stroke-width="2.3"/><rect x="553.1" y="698.1" width="2.6" height="2.7"/><line x1="559.0" y1="697.8" x2="564.2" y2="697.8" stroke="#151515" stroke-width="2.3"/><line x1="563.6" y1="699.1" x2="563.6" y2="702.8" stroke="#151515" stroke-width="2.3"/><line x1="568.3" y1="699.4" x2="568.3" y2="703.2" stroke="#151515" stroke-width="2.3"/><line x1="573.4" y1="699.0" x2="576.4" y2="702.0" stroke="#151515" stroke-width="2.3"/><line x1="576.7" y1="697.4" x2="580.2" y2="693.8" stroke="#151515" stroke-width="2.3"/><rect x="582.8" y="697.7" width="2.7" height="2.9"/><rect x="585.0" y="698.4" width="2.5" height="2.3"/><line x1="591.6" y1="698.7" x2="594.8" y2="700.8" stroke="#151515" stroke-width="2.3"/><line x1="596.2" y1="698.2" x2="601.1" y2="698.2" stroke="#151515" stroke-width="2.3"/><rect x="600.5" y="699.2" width="2.7" height="2.7"/><line x1="604.1" y1="697.1" x2="608.4" y2="698.4" stroke="#151515" stroke-width="2.3"/><rect x="610.4" y="697.7" width="2.6" height="2.9"/><rect x="612.7" y="698.2" width="3.0" height="2.3"/><rect x="619.2" y="698.1" width="3.0" height="2.6"/><rect x="621.9" y="698.3" width="2.5" height="2.4"/><rect x="426.5" y="702.9" width="2.6" height="2.8"/><line x1="431.1" y1="703.0" x2="435.3" y2="705.9" stroke="#151515" stroke-width="2.3"/><rect x="434.5" y="702.6" width="2.7" height="2.8"/><rect x="438.8" y="702.8" width="2.3" height="2.9"/><line x1="449.5" y1="702.4" x2="454.3" y2="702.4" stroke="#151515" stroke-width="2.3"/><line x1="452.7" y1="704.0" x2="455.8" y2="700.9" stroke="#151515" stroke-width="2.3"/><rect x="456.7" y="702.5" width="2.3" height="2.8"/><line x1="461.9" y1="702.0" x2="466.1" y2="704.9" stroke="#151515" stroke-width="2.3"/><rect x="467.4" y="703.7" width="2.8" height="2.1"/><rect x="471.6" y="701.5" width="2.5" height="2.9"/><rect x="476.5" y="702.9" width="2.7" height="2.6"/><line x1="480.1" y1="701.8" x2="480.1" y2="706.0" stroke="#151515" stroke-width="2.3"/><rect x="485.9" y="702.7" width="2.2" height="2.2"/><line x1="489.6" y1="704.1" x2="493.6" y2="705.3" stroke="#151515" stroke-width="2.3"/><rect x="495.5" y="703.7" width="2.3" height="2.5"/><rect x="499.3" y="703.9" width="2.4" height="2.8"/><rect x="504.2" y="703.4" width="2.9" height="2.5"/><rect x="507.1" y="703.4" width="2.1" height="2.8"/><rect x="518.0" y="702.0" width="2.9" height="2.9"/><line x1="522.1" y1="702.7" x2="525.0" y2="704.7" stroke="#151515" stroke-width="2.3"/><rect x="526.1" y="703.8" width="2.9" height="3.0"/><line x1="531.3" y1="703.9" x2="534.8" y2="707.5" stroke="#151515" stroke-width="2.3"/><rect x="536.3" y="703.7" width="2.7" height="2.9"/><line x1="544.8" y1="703.8" x2="550.1" y2="703.8" stroke="#151515" stroke-width="2.3"/><line x1="548.4" y1="702.1" x2="551.3" y2="704.1" stroke="#151515" stroke-width="2.3"/><line x1="554.7" y1="702.1" x2="554.7" y2="705.7" stroke="#151515" stroke-width="2.3"/><rect x="559.9" y="703.6" width="2.1" height="2.3"/><line x1="562.6" y1="703.2" x2="562.6" y2="707.9" stroke="#151515" stroke-width="2.3"/><rect x="566.7" y="702.7" width="3.0" height="2.8"/><rect x="571.5" y="701.9" width="2.7" height="2.4"/><line x1="578.3" y1="702.5" x2="583.5" y2="702.5" stroke="#151515" stroke-width="2.3"/><line x1="582.5" y1="702.8" x2="586.1" y2="699.2" stroke="#151515" stroke-width="2.3"/><line x1="586.8" y1="703.2" x2="589.8" y2="706.3" stroke="#151515" stroke-width="2.3"/><line x1="591.5" y1="701.6" x2="596.5" y2="703.1" stroke="#151515" stroke-width="2.3"/><line x1="596.0" y1="703.4" x2="600.8" y2="703.4" stroke="#151515" stroke-width="2.3"/><rect x="600.2" y="703.3" width="2.3" height="2.9"/><rect x="608.7" y="702.3" width="2.5" height="2.6"/><rect x="613.1" y="701.7" width="2.7" height="2.8"/><line x1="618.2" y1="704.1" x2="621.5" y2="700.6" stroke="#151515" stroke-width="2.3"/><line x1="623.7" y1="703.6" x2="627.2" y2="704.6" stroke="#151515" stroke-width="2.3"/><line x1="425.7" y1="706.5" x2="430.8" y2="708.0" stroke="#151515" stroke-width="2.3"/><line x1="431.1" y1="707.2" x2="435.2" y2="704.4" stroke="#151515" stroke-width="2.3"/><rect x="433.3" y="707.1" width="2.2" height="3.0"/><line x1="439.0" y1="707.7" x2="443.8" y2="709.2" stroke="#151515" stroke-width="2.3"/><rect x="443.0" y="707.2" width="2.3" height="2.9"/><line x1="447.9" y1="708.1" x2="452.1" y2="705.2" stroke="#151515" stroke-width="2.3"/><rect x="451.9" y="708.2" width="2.7" height="2.4"/><rect x="458.7" y="706.5" width="2.7" height="2.6"/><line x1="461.9" y1="708.5" x2="461.9" y2="712.2" stroke="#151515" stroke-width="2.3"/><rect x="466.1" y="708.5" width="2.3" height="2.7"/><line x1="475.7" y1="707.9" x2="475.7" y2="712.0" stroke="#151515" stroke-width="2.3"/><rect x="480.1" y="708.6" width="2.9" height="2.7"/><rect x="485.5" y="708.0" width="2.2" height="2.2"/><rect x="488.6" y="708.0" width="2.2" height="2.2"/><rect x="494.9" y="707.8" width="2.9" height="2.9"/><rect x="499.9" y="706.8" width="2.7" height="2.3"/><rect x="509.0" y="707.3" width="2.3" height="2.4"/><rect x="511.7" y="706.6" width="2.4" height="2.7"/><line x1="516.2" y1="706.3" x2="516.2" y2="711.0" stroke="#151515" stroke-width="2.3"/><rect x="521.1" y="706.5" width="3.0" height="2.4"/><rect x="526.7" y="706.7" width="2.1" height="2.9"/><line x1="532.3" y1="707.0" x2="535.8" y2="709.4" stroke="#151515" stroke-width="2.3"/><line x1="535.4" y1="706.5" x2="539.2" y2="707.7" stroke="#151515" stroke-width="2.3"/><line x1="539.7" y1="707.1" x2="543.7" y2="709.8" stroke="#151515" stroke-width="2.3"/><rect x="545.6" y="708.3" width="2.9" height="2.3"/><rect x="548.5" y="707.1" width="2.4" height="2.5"/><rect x="553.1" y="707.5" width="2.5" height="2.5"/><rect x="559.8" y="707.2" width="2.3" height="2.3"/><rect x="562.6" y="707.0" width="2.6" height="2.5"/><line x1="568.2" y1="708.7" x2="570.8" y2="711.4" stroke="#151515" stroke-width="2.3"/><rect x="572.6" y="706.7" width="2.9" height="2.3"/><rect x="576.5" y="708.5" width="2.8" height="2.2"/><line x1="581.2" y1="706.6" x2="584.2" y2="704.6" stroke="#151515" stroke-width="2.3"/><rect x="586.2" y="706.8" width="2.7" height="2.8"/><rect x="591.3" y="707.9" width="2.7" height="2.8"/><rect x="594.6" y="707.0" width="2.9" height="2.4"/><line x1="601.0" y1="707.8" x2="601.0" y2="711.8" stroke="#151515" stroke-width="2.3"/><rect x="605.7" y="706.3" width="2.1" height="2.5"/><rect x="608.5" y="708.0" width="2.9" height="2.5"/><rect x="612.6" y="708.6" width="2.5" height="2.6"/><line x1="618.5" y1="708.7" x2="621.7" y2="710.9" stroke="#151515" stroke-width="2.3"/><rect x="622.6" y="708.1" width="3.0" height="2.8"/><line x1="424.5" y1="711.8" x2="427.4" y2="708.7" stroke="#151515" stroke-width="2.3"/><line x1="430.8" y1="710.7" x2="434.6" y2="708.0" stroke="#151515" stroke-width="2.3"/><rect x="434.6" y="711.7" width="2.6" height="2.3"/><rect x="440.2" y="713.3" width="2.4" height="2.8"/><line x1="443.5" y1="710.9" x2="447.6" y2="712.2" stroke="#151515" stroke-width="2.3"/><line x1="448.7" y1="712.9" x2="453.2" y2="709.9" stroke="#151515" stroke-width="2.3"/><line x1="451.8" y1="711.8" x2="457.2" y2="711.8" stroke="#151515" stroke-width="2.3"/><rect x="458.2" y="711.2" width="2.2" height="2.4"/><rect x="462.5" y="712.5" width="2.5" height="2.5"/><rect x="467.2" y="711.7" width="2.6" height="2.5"/><line x1="470.7" y1="711.7" x2="474.6" y2="709.0" stroke="#151515" stroke-width="2.3"/><line x1="477.1" y1="711.4" x2="477.1" y2="716.4" stroke="#151515" stroke-width="2.3"/><line x1="480.4" y1="712.4" x2="484.8" y2="712.4" stroke="#151515" stroke-width="2.3"/><line x1="485.8" y1="713.2" x2="489.6" y2="717.1" stroke="#151515" stroke-width="2.3"/><line x1="489.0" y1="711.8" x2="492.8" y2="714.4" stroke="#151515" stroke-width="2.3"/><rect x="493.3" y="712.6" width="2.7" height="2.4"/><line x1="498.5" y1="713.3" x2="501.6" y2="711.2" stroke="#151515" stroke-width="2.3"/><line x1="504.5" y1="712.3" x2="507.7" y2="715.6" stroke="#151515" stroke-width="2.3"/><line x1="508.3" y1="711.6" x2="511.2" y2="714.6" stroke="#151515" stroke-width="2.3"/><line x1="513.2" y1="712.5" x2="516.2" y2="715.5" stroke="#151515" stroke-width="2.3"/><line x1="522.8" y1="712.4" x2="522.8" y2="717.1" stroke="#151515" stroke-width="2.3"/><line x1="526.2" y1="712.9" x2="530.4" y2="715.8" stroke="#151515" stroke-width="2.3"/><rect x="532.0" y="713.0" width="2.3" height="2.1"/><rect x="536.3" y="711.4" width="2.1" height="2.3"/><rect x="539.0" y="711.3" width="2.7" height="3.0"/><line x1="543.9" y1="713.1" x2="547.6" y2="715.6" stroke="#151515" stroke-width="2.3"/><line x1="549.1" y1="711.5" x2="552.9" y2="712.6" stroke="#151515" stroke-width="2.3"/><rect x="553.0" y="711.1" width="2.7" height="2.7"/><rect x="559.5" y="712.6" width="2.5" height="2.3"/><rect x="563.5" y="710.8" width="2.7" height="2.4"/><line x1="567.2" y1="712.8" x2="570.8" y2="712.8" stroke="#151515" stroke-width="2.3"/><rect x="573.3" y="711.9" width="2.8" height="2.7"/><rect x="577.0" y="711.8" width="2.9" height="2.3"/><rect x="581.6" y="712.7" width="2.6" height="2.4"/><rect x="585.6" y="710.8" width="2.3" height="2.7"/><line x1="590.1" y1="711.2" x2="590.1" y2="716.5" stroke="#151515" stroke-width="2.3"/><rect x="594.4" y="711.9" width="2.7" height="2.7"/><rect x="600.9" y="711.7" width="2.4" height="2.8"/><rect x="604.2" y="711.5" width="2.3" height="2.7"/><line x1="608.1" y1="711.5" x2="608.1" y2="716.1" stroke="#151515" stroke-width="2.3"/><line x1="614.5" y1="712.1" x2="619.3" y2="712.1" stroke="#151515" stroke-width="2.3"/><line x1="618.3" y1="710.9" x2="621.1" y2="708.0" stroke="#151515" stroke-width="2.3"/><line x1="623.0" y1="712.6" x2="626.8" y2="710.0" stroke="#151515" stroke-width="2.3"/><rect x="425.9" y="716.1" width="2.8" height="2.2"/><line x1="428.9" y1="717.5" x2="431.6" y2="714.8" stroke="#151515" stroke-width="2.3"/><rect x="434.8" y="716.1" width="2.8" height="2.8"/><rect x="438.0" y="716.3" width="3.0" height="2.1"/><rect x="444.4" y="715.7" width="2.2" height="2.2"/><rect x="449.2" y="715.7" width="2.8" height="2.5"/><line x1="451.9" y1="715.9" x2="455.6" y2="715.9" stroke="#151515" stroke-width="2.3"/><rect x="458.6" y="717.2" width="2.3" height="2.3"/><rect x="462.8" y="716.3" width="2.8" height="2.8"/><rect x="466.7" y="717.6" width="2.8" height="2.1"/><line x1="472.1" y1="717.1" x2="475.0" y2="714.1" stroke="#151515" stroke-width="2.3"/><rect x="476.5" y="716.2" width="2.5" height="2.8"/><line x1="480.7" y1="715.3" x2="483.2" y2="712.8" stroke="#151515" stroke-width="2.3"/><rect x="486.4" y="715.9" width="2.9" height="3.0"/><rect x="490.0" y="716.3" width="2.9" height="2.1"/><rect x="495.0" y="717.3" width="2.9" height="2.8"/><rect x="497.7" y="717.6" width="2.2" height="2.4"/><rect x="503.0" y="716.4" width="2.3" height="2.7"/><rect x="506.9" y="717.6" width="2.4" height="2.8"/><rect x="513.9" y="717.6" width="2.9" height="2.8"/><rect x="518.5" y="717.8" width="2.5" height="2.8"/><rect x="522.5" y="716.2" width="2.2" height="2.9"/><line x1="525.3" y1="716.3" x2="528.7" y2="719.8" stroke="#151515" stroke-width="2.3"/><line x1="531.0" y1="716.3" x2="533.9" y2="719.3" stroke="#151515" stroke-width="2.3"/><line x1="536.7" y1="716.5" x2="536.7" y2="721.7" stroke="#151515" stroke-width="2.3"/><rect x="539.9" y="717.7" width="3.0" height="2.9"/><line x1="544.8" y1="715.3" x2="548.0" y2="717.5" stroke="#151515" stroke-width="2.3"/><line x1="549.1" y1="717.8" x2="554.0" y2="717.8" stroke="#151515" stroke-width="2.3"/><rect x="554.0" y="716.8" width="2.2" height="3.0"/><line x1="558.2" y1="716.6" x2="562.1" y2="716.6" stroke="#151515" stroke-width="2.3"/><line x1="564.1" y1="715.9" x2="564.1" y2="720.2" stroke="#151515" stroke-width="2.3"/><rect x="568.4" y="717.7" width="2.4" height="2.4"/><rect x="571.7" y="716.7" width="2.7" height="2.2"/><line x1="587.1" y1="715.8" x2="590.7" y2="712.0" stroke="#151515" stroke-width="2.3"/><rect x="591.1" y="715.4" width="2.6" height="2.9"/><rect x="596.1" y="717.2" width="2.5" height="2.2"/><rect x="599.2" y="716.4" width="2.2" height="2.7"/><line x1="604.0" y1="715.9" x2="607.7" y2="715.9" stroke="#151515" stroke-width="2.3"/><line x1="608.9" y1="717.2" x2="612.7" y2="719.7" stroke="#151515" stroke-width="2.3"/><rect x="614.7" y="715.9" width="2.9" height="3.0"/><rect x="617.5" y="716.5" width="2.3" height="2.9"/><rect x="623.1" y="716.6" width="2.9" height="2.9"/></g>
<rect x="187" y="636" width="436.5" height="83" rx="0" fill="none" stroke="#333" stroke-width="2.4"/>
<polyline points="187,677.5 623.5,677.5" fill="none" stroke="#333" stroke-width="2.4"/>
<polyline points="368.8,636 368.8,719" fill="none" stroke="#333" stroke-width="2.2"/>
<polyline points="377.1,636 377.1,719" fill="none" stroke="#333" stroke-width="2.2"/>
<polyline points="414.9,636 414.9,719" fill="none" stroke="#333" stroke-width="2.2"/>
<polyline points="423.2,636 423.2,719" fill="none" stroke="#333" stroke-width="2.2"/>
<polyline points="314,719 314,763" fill="none" stroke="#333" stroke-width="2.2"/>
<polyline points="489,719 489,763" fill="none" stroke="#333" stroke-width="2.2"/>
<path d="M186.5,763 H639 V827.5 H186.5 Z M194.5,771.5 H632.5 V819.5 H194.5 Z" fill="#8a8a8a" fill-rule="evenodd"/>
<rect x="187.2" y="763.6" width="451.2" height="63.299999999999955" rx="0" fill="none" stroke="#333" stroke-width="2.6"/>
<rect x="194.5" y="771.5" width="438.0" height="48.0" rx="0" fill="none" stroke="#333" stroke-width="2.6"/>
<rect x="190.8" y="767.4" width="444.59999999999997" height="56.0" rx="0" fill="none" stroke="#555" stroke-width="1.2"/>
<path d="M109.80,138.30 C115.22,137.70 118.91,136.70 121.73,135.10 L123.58,135.10 L123.58,180.67 C124.56,181.47 128.25,181.47 131.50,181.47 L131.50,183.50 L109.80,183.50 L109.80,181.47 C113.05,181.47 117.61,181.47 118.59,180.67 L118.59,140.10 C115.88,140.80 112.84,141.00 109.80,141.10 Z" fill="#111"/>
<polyline points="143.7,159.3 164,159.3 304.2,356.3" fill="none" stroke="#333" stroke-width="2.3"/>
<line x1="299.27" y1="349.37" x2="303.33" y2="355.08" stroke="#222" stroke-width="3.6" stroke-linecap="round"/>
<path d="M550.80,96.19 L570.49,63.00 L574.26,63.00 L574.26,96.19 L582.00,96.19 L582.00,98.96 L574.26,98.96 L574.26,109.17 L579.97,109.17 L579.97,111.60 L561.56,111.60 L561.56,109.17 L569.89,109.17 L569.89,98.96 L550.80,98.96 Z M553.80,96.19 L569.89,69.80 L569.89,96.19 Z" fill="#111" fill-rule="evenodd"/>
<polyline points="539.6,86.7 512,86.7 419,248" fill="none" stroke="#333" stroke-width="2.3"/>
<line x1="423.25" y1="240.64" x2="419.75" y2="246.70" stroke="#222" stroke-width="3.6" stroke-linecap="round"/>
<text transform="translate(627.80 345.27) scale(0.7000 0.7278)" x="0" y="0" font-size="100" fill="#111" stroke="#fff" stroke-width="1.2">5</text>
<circle cx="635.6" cy="334.2" r="3.3" fill="#111"/>
<polyline points="620.3,321.3 605,321.3 481.3,486.7" fill="none" stroke="#333" stroke-width="2.3"/>
<line x1="486.39" y1="479.89" x2="482.20" y2="485.50" stroke="#222" stroke-width="3.6" stroke-linecap="round"/>
<text transform="translate(64.86 393.90) scale(0.6975 0.7197)" x="0" y="0" font-size="100" fill="#111" stroke="#fff" stroke-width="1.2">2</text>
<circle cx="73" cy="359.2" r="3.6" fill="#111"/>
<polyline points="110.4,371.7 123.7,371.7 379,572.7" fill="none" stroke="#333" stroke-width="2.3"/>
<line x1="372.32" y1="567.44" x2="377.82" y2="571.77" stroke="#222" stroke-width="3.6" stroke-linecap="round"/>
<text transform="translate(634.75 448.68) scale(0.6776 0.7224)" x="0" y="0" font-size="100" fill="#111" stroke="#fff" stroke-width="1.2">6</text>
<circle cx="661.8" cy="407.8" r="3.1" fill="#111"/>
<polyline points="626.4,426.2 602.4,426.2 465.3,546.7" fill="none" stroke="#333" stroke-width="2.3"/>
<line x1="471.68" y1="541.09" x2="466.43" y2="545.71" stroke="#222" stroke-width="3.6" stroke-linecap="round"/>
<text transform="translate(54.34 496.88) scale(0.6927 0.7224)" x="0" y="0" font-size="100" fill="#111" stroke="#fff" stroke-width="1.2">3</text>
<circle cx="62.8" cy="458.6" r="3.3" fill="#111"/><circle cx="61.6" cy="488.4" r="3.4" fill="#111"/>
<polyline points="100.7,473.7 112.6,473.7 375.5,605.5" fill="none" stroke="#333" stroke-width="2.3"/>
<line x1="367.90" y1="601.69" x2="374.16" y2="604.83" stroke="#222" stroke-width="3.6" stroke-linecap="round"/>
<text transform="translate(688.06 502.89) scale(0.6857 0.7111)" x="0" y="0" font-size="100" fill="#111" stroke="#fff" stroke-width="1.2">8</text>
<polyline points="679.5,479.9 646.4,479.9 475.6,567.5" fill="none" stroke="#333" stroke-width="2.3"/>
<line x1="483.16" y1="563.62" x2="476.93" y2="566.82" stroke="#222" stroke-width="3.6" stroke-linecap="round"/>
<path d="M679.10,512.30 C684.55,511.70 688.26,510.70 691.09,509.10 L692.94,509.10 L692.94,553.71 C693.92,554.51 697.63,554.51 700.90,554.51 L700.90,556.50 L679.10,556.50 L679.10,554.51 C682.37,554.51 686.95,554.51 687.93,553.71 L687.93,514.10 C685.20,514.80 682.15,515.00 679.10,515.10 Z" fill="#111"/>
<path d="M711.00,541.47 L731.55,509.10 L735.52,509.10 L735.52,541.47 L743.60,541.47 L743.60,544.18 L735.52,544.18 L735.52,554.13 L741.48,554.13 L741.48,556.50 L722.25,556.50 L722.25,554.13 L730.95,554.13 L730.95,544.18 L711.00,544.18 Z M714.00,541.47 L730.95,515.74 L730.95,541.47 Z" fill="#111" fill-rule="evenodd"/>
<polyline points="667.9,532.5 642.2,532.5 488.7,583.7" fill="none" stroke="#333" stroke-width="2.3"/>
<line x1="496.76" y1="581.01" x2="490.12" y2="583.23" stroke="#222" stroke-width="3.6" stroke-linecap="round"/>
<path d="M77.5,525.8 L103.3,525.8 L103.3,528.6 C99,535 95.2,543 92.8,551 C91,558 89.9,565 89.4,571.3 C89,574.4 84.9,574.4 84,571.8 C83.3,566.5 84.3,558 87,549.5 C89.9,541 95.3,534 99.8,529.3 L80,529.3 C78.9,531.8 78.3,534.8 77.7,537.6 L76.4,537.6 Z" fill="#111"/>
<polyline points="117,551.5 128,551.5 334.3,608" fill="none" stroke="#333" stroke-width="2.3"/>
<line x1="326.10" y1="605.75" x2="332.85" y2="607.60" stroke="#222" stroke-width="3.6" stroke-linecap="round"/>
<g fill="#111"><polygon points="660.8,561.3 663.2,561.3 652,610 649.6,610"/><polygon points="661.3,561.3 665.8,561.3 675.7,610 670.3,610"/><rect x="654" y="593" width="14" height="2.2"/><rect x="646" y="609.6" width="10" height="2.4"/><rect x="667" y="609.6" width="12.3" height="2.4"/></g>
<polyline points="645.5,590.8 610.8,590.8 497.5,626" fill="none" stroke="#333" stroke-width="2.3"/>
<polygon points="497.5,626 511.5,616.3 514,623.6" fill="#222"/>
<text transform="translate(80.53 670.28) scale(0.6884 0.7224)" x="0" y="0" font-size="100" fill="#111" stroke="#fff" stroke-width="1.2">9</text>
<circle cx="88.2" cy="663.6" r="3.3" fill="#111"/>
<polyline points="125.3,648.5 144.3,648.5 213.6,677.5 286,704" fill="none" stroke="#333" stroke-width="2.3"/>
<path d="M6.70,735.90 C11.85,735.30 15.35,734.30 18.03,732.70 L19.78,732.70 L19.78,777.88 C20.71,778.68 24.21,778.68 27.30,778.68 L27.30,780.70 L6.70,780.70 L6.70,778.68 C9.79,778.68 14.12,778.68 15.04,777.88 L15.04,737.70 C12.47,738.40 9.58,738.60 6.70,738.70 Z" fill="#111"/>
<text transform="translate(37.98 779.99) scale(0.6810 0.7111)" x="0" y="0" font-size="100" fill="#111" stroke="#fff" stroke-width="1.2">0</text>
<polyline points="82.7,756 92,756 186.7,814.7" fill="none" stroke="#333" stroke-width="2.3"/>
<line x1="179.48" y1="810.22" x2="185.43" y2="813.91" stroke="#222" stroke-width="3.6" stroke-linecap="round"/>
<path d="M590.70,853.30 C596.30,852.70 600.11,851.70 603.02,850.10 L604.92,850.10 L604.92,895.86 C605.93,896.66 609.74,896.66 613.10,896.66 L613.10,898.70 L590.70,898.70 L590.70,896.66 C594.06,896.66 598.76,896.66 599.77,895.86 L599.77,855.10 C596.97,855.80 593.84,856.00 590.70,856.10 Z" fill="#111"/>
<path d="M626.90,853.30 C632.25,852.70 635.89,851.70 638.67,850.10 L640.49,850.10 L640.49,895.86 C641.45,896.66 645.09,896.66 648.30,896.66 L648.30,898.70 L626.90,898.70 L626.90,896.66 C630.11,896.66 634.60,896.66 635.57,895.86 L635.57,855.10 C632.89,855.80 629.90,856.00 626.90,856.10 Z" fill="#111"/>
<polyline points="408.8,694 560,876 580,876" fill="none" stroke="#333" stroke-width="2.3"/>
<line x1="414.23" y1="700.54" x2="409.76" y2="695.15" stroke="#222" stroke-width="3.6" stroke-linecap="round"/>
<text x="38.3" y="885.6" font-family="Liberation Sans" font-size="16" letter-spacing="1.25" fill="#eb9670" stroke="#eb9670" stroke-width="0.35">PV001.COM</text></g></svg>
</body></html>
